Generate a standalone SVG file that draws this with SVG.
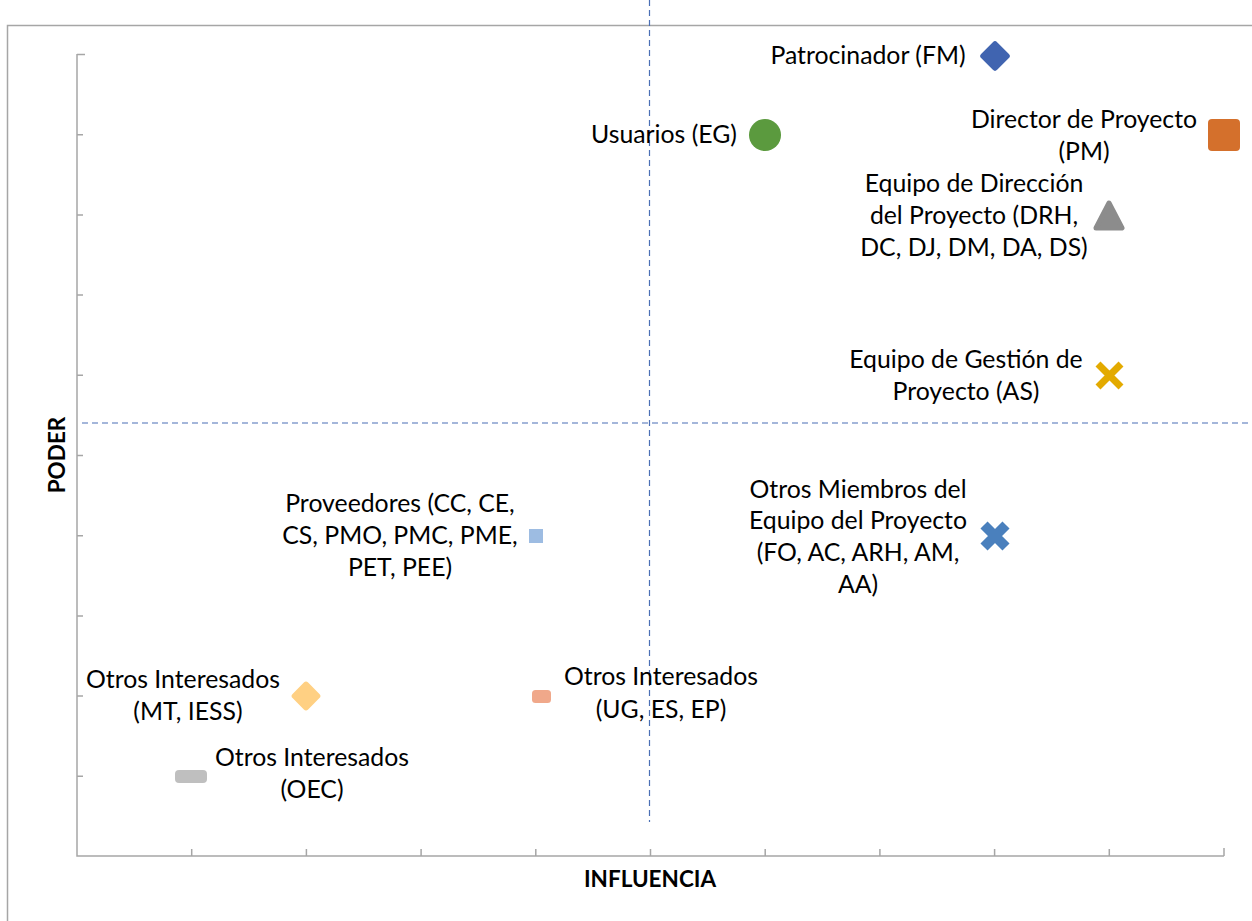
<svg xmlns="http://www.w3.org/2000/svg" width="1252" height="921" viewBox="0 0 1252 921">
<style>
.lbl{font-family:Lato,"Noto Sans","Liberation Sans",sans-serif;font-size:24.8px;fill:#000;text-anchor:middle}
.ttl{font-family:Lato,"Noto Sans","Liberation Sans",sans-serif;font-size:22.5px;font-weight:bold;fill:#000;text-anchor:middle}
.ax{stroke:#A6A6A6;stroke-width:1.5;fill:none}
.dash{stroke:#4A6FB5;stroke-width:1.2;stroke-dasharray:6,4;fill:none}
</style>
<rect width="1252" height="921" fill="#fff"/>
<path d="M7.5,921 V25.5 H1252" class="ax"/>
<g id="axes">
<path class="ax" d="M77,54 V856 H1224"/>
<path class="ax" d="M77,54.5h8M77,134.7h6M77,214.9h6M77,295.1h6M77,375.3h6M77,455.5h6M77,535.7h6M77,615.9h6M77,696.1h6M77,776.3h6"/>
<path class="ax" d="M191.7,856v-7M306.4,856v-7M421.1,856v-7M535.8,856v-7M650.5,856v-7M765.2,856v-7M879.9,856v-7M994.6,856v-7M1109.3,856v-7M1224,856v-8"/>
<text class="ttl" x="650" y="887">INFLUENCIA</text>
<text class="ttl" transform="translate(65,455) rotate(-90)">PODER</text>
</g>
<g id="quadrants">
<line class="dash" x1="649.5" y1="0" x2="649.5" y2="822"/>
<line class="dash" x1="82" y1="423" x2="1252" y2="423"/>
</g>
<g id="patrocinador">
<rect x="983.7" y="44.7" width="22.6" height="22.6" rx="3" fill="#4064B0" transform="rotate(45 995 56)"/>
<text class="lbl" x="868" y="64">Patrocinador (FM)</text>
</g>
<g id="usuarios">
<circle cx="765" cy="135" r="16" fill="#5B9A3E"/>
<text class="lbl" x="664" y="143">Usuarios (EG)</text>
</g>
<g id="director">
<rect x="1208" y="119" width="32" height="32" rx="4" fill="#D4702C"/>
<text class="lbl" x="1084" y="128">Director de Proyecto</text>
<text class="lbl" x="1084" y="160">(PM)</text>
</g>
<g id="equipo-direccion">
<path d="M1109,203 L1122,228 L1096,228 Z" fill="#8C8C8C" stroke="#8C8C8C" stroke-width="5" stroke-linejoin="round"/>
<text class="lbl" x="974" y="192">Equipo de Dirección</text>
<text class="lbl" x="974" y="224">del Proyecto (DRH,</text>
<text class="lbl" x="974" y="256">DC, DJ, DM, DA, DS)</text>
</g>
<g id="equipo-gestion">
<path d="M1098,364 L1121,387 M1121,364 L1098,387" stroke="#E3AA00" stroke-width="7"/>
<text class="lbl" x="966" y="368">Equipo de Gestión de</text>
<text class="lbl" x="966" y="400">Proyecto (AS)</text>
</g>
<g id="otros-miembros">
<path d="M984,525 L1006,547 M1006,525 L984,547" stroke="#4A80BD" stroke-width="10"/>
<text class="lbl" x="858" y="498">Otros Miembros del</text>
<text class="lbl" x="858" y="529">Equipo del Proyecto</text>
<text class="lbl" x="858" y="561">(FO, AC, ARH, AM,</text>
<text class="lbl" x="858" y="593">AA)</text>
</g>
<g id="proveedores">
<rect x="529" y="529" width="14" height="14" fill="#9DBCE2"/>
<text class="lbl" x="400" y="512">Proveedores (CC, CE,</text>
<text class="lbl" x="400" y="544">CS, PMO, PMC, PME,</text>
<text class="lbl" x="400" y="576">PET, PEE)</text>
</g>
<g id="otros-mt">
<rect x="295" y="685" width="22" height="22" rx="3" fill="#FFD083" transform="rotate(45 306 696)"/>
<text class="lbl" x="183" y="688">Otros Interesados</text>
<text class="lbl" x="188" y="720">(MT, IESS)</text>
</g>
<g id="otros-ug">
<rect x="532" y="690" width="19" height="13" rx="3.5" fill="#F0A88A"/>
<text class="lbl" x="661" y="685">Otros Interesados</text>
<text class="lbl" x="661" y="718">(UG, ES, EP)</text>
</g>
<g id="otros-oec">
<rect x="175" y="770" width="32" height="13" rx="4" fill="#BFBFBF"/>
<text class="lbl" x="312" y="766">Otros Interesados</text>
<text class="lbl" x="312" y="798">(OEC)</text>
</g>
</svg>
